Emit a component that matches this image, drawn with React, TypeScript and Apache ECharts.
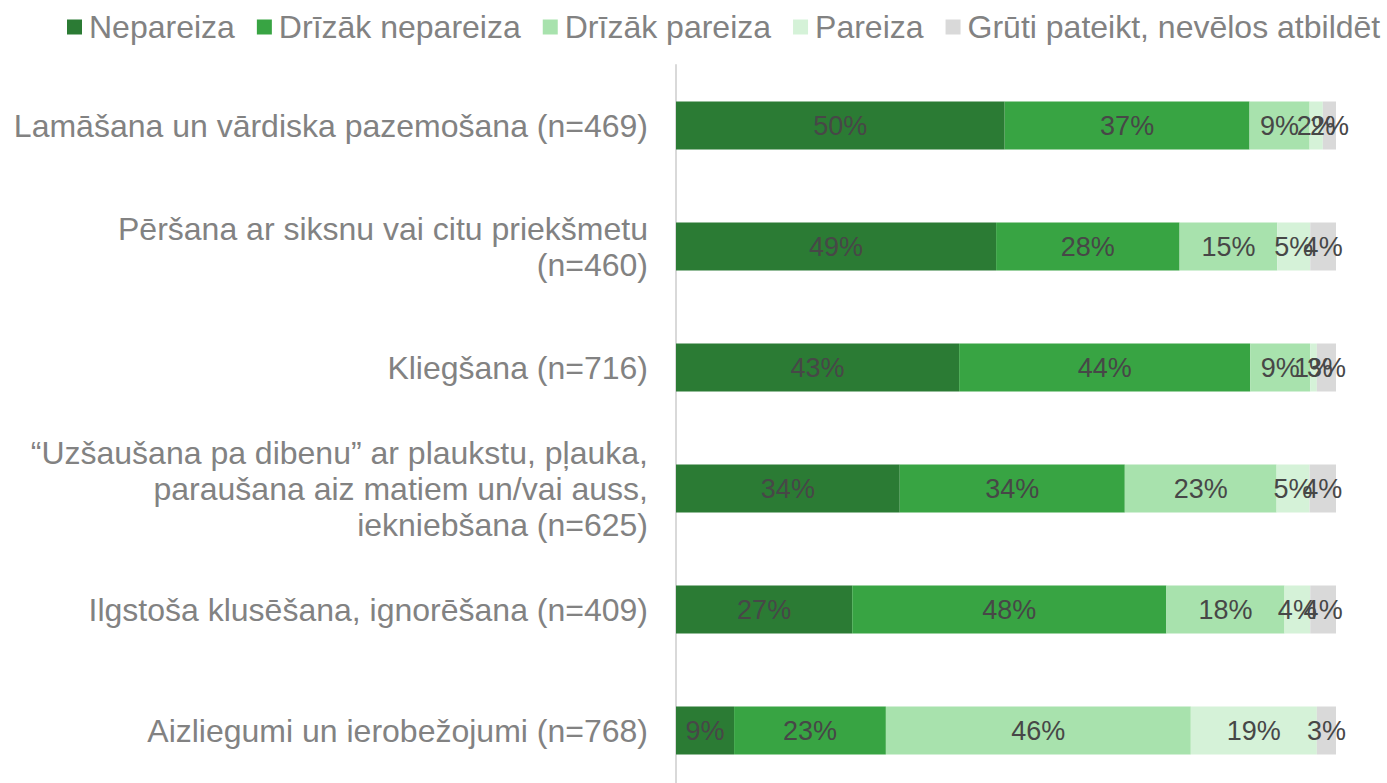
import React, { useEffect, useRef } from "react";
import * as echarts from "echarts";

const categories = [
  "Lamāšana un vārdiska pazemošana (n=469)",
  "Pēršana ar siksnu vai citu priekšmetu\n(n=460)",
  "Kliegšana (n=716)",
  "“Uzšaušana pa dibenu” ar plaukstu, pļauka,\nparaušana aiz matiem un/vai auss,\niekniebšana (n=625)",
  "Ilgstoša klusēšana, ignorēšana (n=409)",
  "Aizliegumi un ierobežojumi (n=768)",
];

const seriesNames = [
  "Nepareiza",
  "Drīzāk nepareiza",
  "Drīzāk pareiza",
  "Pareiza",
  "Grūti pateikt, nevēlos atbildēt",
];

const nepareiza = [49.8, 48.5, 42.9, 33.9, 26.7, 8.8];
const drizakNepareiza = [37.1, 27.8, 44.1, 34.1, 47.6, 23.0];
const drizakPareiza = [9.1, 14.8, 9.1, 23.0, 17.9, 46.2];
const pareiza = [2.0, 5.0, 1.0, 5.0, 3.9, 19.1];
const grutiPateikt = [2.0, 3.9, 2.9, 4.0, 3.9, 2.9];

const colors = ["#2b7b34", "#38a443", "#a8e2ad", "#d5f2d8", "#d9d9d9"];

export default function App() {
  const ref = useRef<HTMLDivElement>(null);
  useEffect(() => {
    if (!ref.current) return;
    const chart = echarts.init(ref.current, null, { renderer: "svg" });
    const values = [nepareiza, drizakNepareiza, drizakPareiza, pareiza, grutiPateikt];
    chart.setOption({
      animation: false,
      textStyle: { fontFamily: "Liberation Sans, Arial, sans-serif" },
      legend: {
        top: 6,
        left: 62,
        itemWidth: 15,
        itemHeight: 15,
        itemGap: 22,
        icon: "rect",
        textStyle: { fontSize: 32, color: "#828282", padding: [0, 0, 0, 2] },
        data: seriesNames,
      },
      grid: {
        left: 676,
        right: 51,
        top: 65,
        height: 726,
        containLabel: false,
        outerBoundsMode: "none",
      },
      xAxis: {
        type: "value",
        min: 0,
        max: 100,
        show: false,
      },
      yAxis: {
        type: "category",
        inverse: true,
        data: categories,
        axisLine: { show: true, lineStyle: { color: "#d9d9d9", width: 2 } },
        axisTick: { show: false },
        axisLabel: {
          margin: 28,
          fontSize: 32,
          color: "#828282",
          lineHeight: 36,
          align: "right",
        },
      },
      series: values.map((v, i) => ({
        name: seriesNames[i],
        type: "bar",
        stack: "total",
        barWidth: 48,
        data: v,
        itemStyle: { color: colors[i] },
        label: {
          show: true,
          position: "inside",
          fontSize: 27,
          color: "#474747",
          formatter: (p: any) => Math.round(p.value) + "%",
        },
      })),
    });
    return () => chart.dispose();
  }, []);
  return (
    <div
      ref={ref}
      style={{ position: "absolute", left: 0, top: 0, width: 1387, height: 783, background: "#fff" }}
    />
  );
}
